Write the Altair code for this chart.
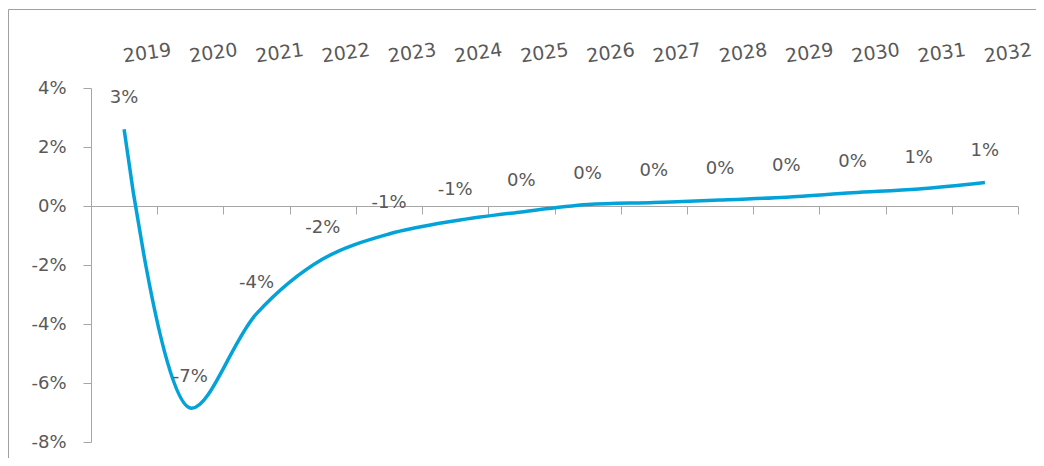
import altair as alt
import pandas as pd

years = [str(y) for y in range(2019, 2033)]
growth = [2.6, -6.85, -3.65, -1.8, -0.95, -0.5, -0.2, 0.05, 0.12, 0.2, 0.3, 0.45, 0.58, 0.8]
labels = ["3%", "-7%", "-4%", "-2%", "-1%", "-1%", "0%", "0%", "0%", "0%", "0%", "0%", "1%", "1%"]
y_ticks = [-8, -6, -4, -2, 0, 2, 4]

df = pd.DataFrame({"year": years, "growth": growth, "label": labels})

W, H = 927, 354
PAD_L, PAD_T, PAD_R, PAD_B = 83, 80, 18, 16
FONT = "DejaVu Sans"
GREY_TXT = "#595959"
GREY_LN = "#a6a6a6"

x_scale = alt.Scale(domain=years, paddingInner=0, paddingOuter=0)
y_scale = alt.Scale(domain=[-8, 4], nice=False, zero=False)

base = alt.Chart(df)

line = base.mark_line(color="#03a3da", strokeWidth=3.5, interpolate="catmull-rom").encode(
    x=alt.X("year:N", scale=x_scale, sort=years,
            axis=alt.Axis(orient="top", title=None, ticks=False, domain=False,
                          labelAngle=-8, labelAlign="left", labelBaseline="alphabetic",
                          labelPadding=26, labelFontSize=19, labelOverlap=False,
                          labelColor=GREY_TXT, labelFont=FONT)),
    y=alt.Y("growth:Q", scale=y_scale,
            axis=alt.Axis(values=y_ticks, labelExpr="datum.value + '%'", title=None,
                          grid=False, domain=True, domainColor=GREY_LN, ticks=True,
                          tickColor=GREY_LN, tickSize=8, labelPadding=17,
                          labelFontSize=18, labelColor=GREY_TXT, labelFont=FONT)),
)

text = base.mark_text(dy=-31, fontSize=18, color=GREY_TXT, font=FONT, baseline="middle").encode(
    x=alt.X("year:N", scale=x_scale, sort=years,
            axis=alt.Axis(orient="bottom", title=None, labels=False, domain=True,
                          domainColor=GREY_LN, ticks=True, tickColor=GREY_LN, tickSize=8,
                          tickBand="extent", offset=-round(H * 8 / 12))),
    y=alt.Y("growth:Q", scale=y_scale, axis=None),
    text="label:N",
)

frame = alt.Chart(pd.DataFrame({"a": [0]})).mark_rect(
    fillOpacity=0, stroke="#a0a0a0", strokeWidth=1
).encode(
    x=alt.value(-PAD_L + 0.5), x2=alt.value(W + PAD_R + 20),
    y=alt.value(-PAD_T + 1.5), y2=alt.value(H + PAD_B + 20),
)

chart = alt.layer(frame, line, text).resolve_axis(x="independent", y="independent").properties(
    width=W, height=H,
    padding={"left": PAD_L, "top": PAD_T, "right": PAD_R, "bottom": PAD_B},
    autosize=alt.AutoSizeParams(type="none"),
).configure_view(stroke=None)

chart.save("out.html", embed_options={"renderer": "svg", "actions": False})
